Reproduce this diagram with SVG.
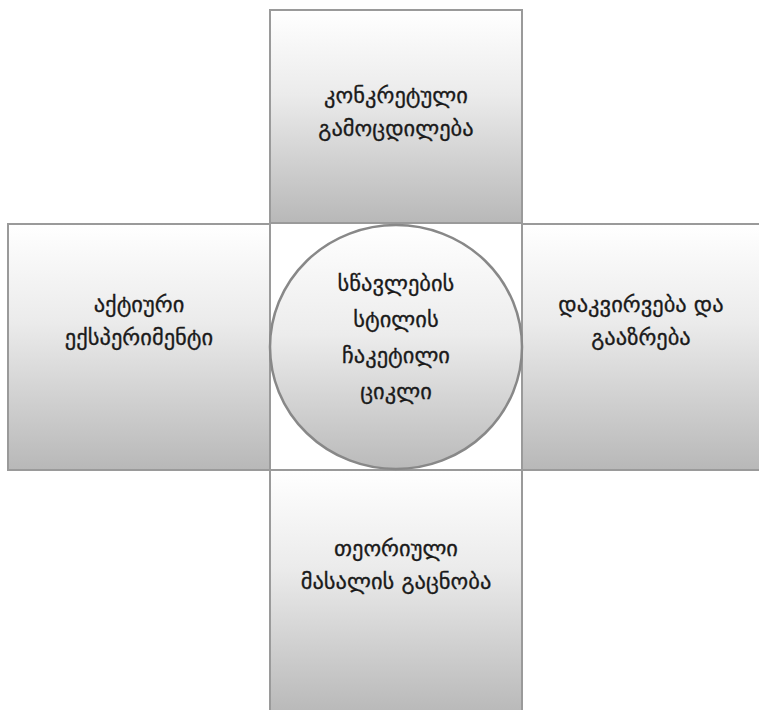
<svg xmlns="http://www.w3.org/2000/svg" width="759" height="710" viewBox="0 0 759 710">
<defs>
<linearGradient id="g" x1="0" y1="0" x2="0" y2="1">
<stop offset="0" stop-color="#ffffff"/>
<stop offset="0.4" stop-color="#ebebeb"/>
<stop offset="1" stop-color="#b8b8b8"/>
</linearGradient>
<linearGradient id="gc" x1="0" y1="0" x2="0" y2="1">
<stop offset="0" stop-color="#ffffff"/>
<stop offset="0.45" stop-color="#ececec"/>
<stop offset="1" stop-color="#bababa"/>
</linearGradient>
</defs>
<style>
.box{fill:url(#g);stroke:#9a9a9a;stroke-width:2}
.circ{fill:url(#gc);stroke:#888888;stroke-width:2.5}
.t{font-family:"DejaVu Sans","Noto Sans",sans-serif;font-size:22.5px;fill:#1a1a1a;text-anchor:middle;stroke:#1a1a1a;stroke-width:0.3}
</style>
<rect width="759" height="710" fill="#fff"/>
<g id="top">
<rect class="box" x="270" y="10" width="252" height="213"/>
<text class="t" x="396" y="103">კონკრეტული</text>
<text class="t" x="396" y="136">გამოცდილება</text>
</g>
<g id="left">
<rect class="box" x="8" y="224" width="262" height="246"/>
<text class="t" x="139" y="312">აქტიური</text>
<text class="t" x="139" y="345">ექსპერიმენტი</text>
</g>
<g id="right">
<rect class="box" x="522" y="224" width="240" height="246"/>
<text class="t" x="641" y="312">დაკვირვება და</text>
<text class="t" x="641" y="345">გააზრება</text>
</g>
<g id="bottom">
<rect class="box" x="270" y="470" width="252" height="245"/>
<text class="t" x="396" y="556">თეორიული</text>
<text class="t" x="396" y="589">მასალის გაცნობა</text>
</g>
<g id="center">
<ellipse class="circ" cx="396" cy="347" rx="126" ry="122"/>
<text class="t" x="396" y="291">სწავლების</text>
<text class="t" x="396" y="327">სტილის</text>
<text class="t" x="396" y="363">ჩაკეტილი</text>
<text class="t" x="396" y="399">ციკლი</text>
</g>
</svg>
